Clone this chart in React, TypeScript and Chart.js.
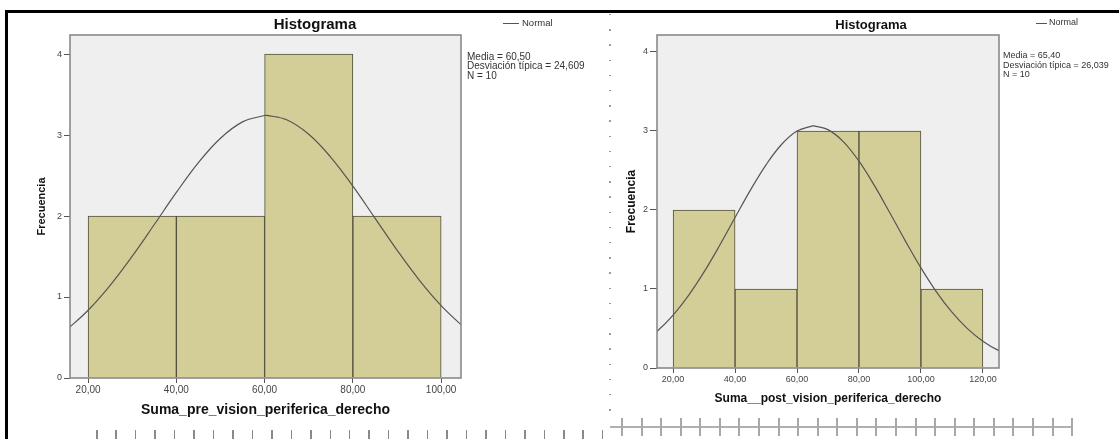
import React, { useEffect, useRef } from 'react';
import { Chart, registerables } from 'chart.js';

Chart.register(...registerables);

const FAMILY = '"Liberation Sans", Arial, Helvetica, sans-serif';
Chart.defaults.font.family = FAMILY;

// ---------- data: left histogram ----------
const preBinCenters = [30, 50, 70, 90];
const preCounts = [2, 2, 4, 2];
const preXTicks = [20, 40, 60, 80, 100];
const preXTickLabels = ['20,00', '40,00', '60,00', '80,00', '100,00'];
const preCurveX = [15, 20, 25, 30, 35, 40, 45, 50, 55, 60, 60.5, 65, 70, 75, 80, 85, 90, 95, 100, 105];
const preCurveY = [0.587, 0.837, 1.145, 1.504, 1.895, 2.291, 2.659, 2.96, 3.162, 3.241, 3.242, 3.188, 3.009, 2.725, 2.369, 1.975, 1.58, 1.213, 0.894, 0.632];
const preStats = ['Media = 60,50', 'Desviación típica = 24,609', 'N = 10'];
const preXTitle = 'Suma_pre_vision_periferica_derecho';

// ---------- data: right histogram ----------
const postBinCenters = [30, 50, 70, 90, 110];
const postCounts = [2, 1, 3, 3, 1];
const postXTicks = [20, 40, 60, 80, 100, 120];
const postXTickLabels = ['20,00', '40,00', '60,00', '80,00', '100,00', '120,00'];
const postCurveX = [10, 15, 20, 25, 30, 35, 40, 45, 50, 55, 60, 65, 65.4, 70, 75, 80, 85, 90, 95, 100, 105, 110, 115, 120, 125, 130];
const postCurveY = [0.319, 0.471, 0.67, 0.92, 1.216, 1.55, 1.904, 2.254, 2.572, 2.829, 2.999, 3.064, 3.064, 3.017, 2.863, 2.618, 2.308, 1.961, 1.606, 1.267, 0.964, 0.707, 0.499, 0.34, 0.223, 0.141];
const postStats = ['Media = 65,40', 'Desviación típica = 26,039', 'N = 10'];
const postXTitle = 'Suma__post_vision_periferica_derecho';

// ---------- shared ----------
const yTicks = [0, 1, 2, 3, 4];
const yTitle = 'Frecuencia';
const chartTitle = 'Histograma';
const legendLabel = 'Normal';

type Panel = {
  pageLeft: number;
  width: number;
  height: number;
  centers: number[];
  counts: number[];
  curveX: number[];
  curveY: number[];
  xTicks: number[];
  xTickLabels: string[];
  stats: string[];
  xTitle: string;
  xMin: number;
  xMax: number;
  yMax: number;
  padRight: number;
  yAxisWidth: number;
  xAxisHeight: number;
  xTickLen: number;
  xTickPad: number;
  xTickFont: number;
  xTitleFont: number;
  xTitlePadBottom: number;
  yTickLen: number;
  yTickPad: number;
  yTickFont: number;
  yTitleFont: number;
  yTitlePadTop: number;
  titleX: number;
  titleY: number;
  titleFont: number;
  legX1: number;
  legX2: number;
  legY: number;
  legTextX: number;
  legFont: number;
  statX: number;
  statY: number;
  statGap: number;
  statFont: number;
};

const leftPanel: Panel = {
  pageLeft: 0, width: 600, height: 439,
  centers: preBinCenters, counts: preCounts, curveX: preCurveX, curveY: preCurveY,
  xTicks: preXTicks, xTickLabels: preXTickLabels, stats: preStats, xTitle: preXTitle,
  xMin: 15.9, xMax: 104.5, yMax: 4.235,
  padRight: 139, yAxisWidth: 70, xAxisHeight: 61,
  xTickLen: 5, xTickPad: 1, xTickFont: 10, xTitleFont: 14, xTitlePadBottom: 20.6,
  yTickLen: 6, yTickPad: 2, yTickFont: 9, yTitleFont: 11, yTitlePadTop: 35.4,
  titleX: 315, titleY: 25, titleFont: 15,
  legX1: 503, legX2: 519, legY: 23, legTextX: 522, legFont: 9.5,
  statX: 467, statY: 57, statGap: 9.5, statFont: 10,
};

const rightPanel: Panel = {
  pageLeft: 610, width: 509, height: 439,
  centers: postBinCenters, counts: postCounts, curveX: postCurveX, curveY: postCurveY,
  xTicks: postXTicks, xTickLabels: postXTickLabels, stats: postStats, xTitle: postXTitle,
  xMin: 14.8, xMax: 125.2, yMax: 4.215,
  padRight: 120, yAxisWidth: 47, xAxisHeight: 71,
  xTickLen: 5, xTickPad: 1.6, xTickFont: 9, xTitleFont: 12, xTitlePadBottom: 32.8,
  yTickLen: 7, yTickPad: 2, yTickFont: 9, yTitleFont: 12, yTitlePadTop: 14.8,
  titleX: 261, titleY: 25, titleFont: 13,
  legX1: 426, legX2: 437, legY: 23, legTextX: 439, legFont: 9,
  statX: 393, statY: 56, statGap: 9.5, statFont: 9,
};

function HistChart({ p }: { p: Panel }) {
  const ref = useRef<HTMLCanvasElement | null>(null);
  useEffect(() => {
    if (!ref.current) return;
    const framePlugin = {
      id: 'spssFrame',
      beforeDatasetsDraw(chart: any) {
        const { ctx, chartArea: a } = chart;
        ctx.save();
        ctx.fillStyle = '#efefef';
        ctx.fillRect(a.left, a.top, a.right - a.left, a.bottom - a.top);
        ctx.restore();
      },
      afterDatasetsDraw(chart: any) {
        const { ctx, chartArea: a } = chart;
        ctx.save();
        ctx.strokeStyle = '#8a8a8a';
        ctx.lineWidth = 1.6;
        ctx.strokeRect(a.left, a.top, a.right - a.left, a.bottom - a.top);
        ctx.restore();
      },
      afterDraw(chart: any) {
        const ctx = chart.ctx;
        ctx.save();
        ctx.fillStyle = '#111';
        ctx.textAlign = 'center';
        ctx.textBaseline = 'middle';
        ctx.font = `bold ${p.titleFont}px ${FAMILY}`;
        ctx.fillText(chartTitle, p.titleX, p.titleY);
        ctx.strokeStyle = '#555';
        ctx.lineWidth = 1;
        ctx.beginPath();
        ctx.moveTo(p.legX1, p.legY + 0.5);
        ctx.lineTo(p.legX2, p.legY + 0.5);
        ctx.stroke();
        ctx.fillStyle = '#333';
        ctx.textAlign = 'left';
        ctx.font = `${p.legFont}px ${FAMILY}`;
        ctx.fillText(legendLabel, p.legTextX, p.legY);
        ctx.font = `${p.statFont}px ${FAMILY}`;
        p.stats.forEach((s, i) => ctx.fillText(s, p.statX, p.statY + i * p.statGap));
        ctx.restore();
      },
    };

    const chart = new Chart(ref.current, {
      type: 'bar',
      data: {
        datasets: [
          {
            type: 'line',
            label: legendLabel,
            data: p.curveX.map((x, i) => ({ x, y: p.curveY[i] })),
            borderColor: '#555555',
            borderWidth: 1.2,
            pointRadius: 0,
            tension: 0.4,
            fill: false,
            order: 0,
          } as any,
          {
            type: 'bar',
            label: 'Frecuencia',
            data: p.centers.map((x, i) => ({ x, y: p.counts[i] })),
            backgroundColor: '#d3ce98',
            borderColor: '#4f4f3a',
            borderWidth: 1,
            barPercentage: 1,
            categoryPercentage: 1,
            order: 1,
          } as any,
        ],
      },
      options: {
        responsive: false,
        animation: false,
        events: [],
        layout: { padding: { left: 0, top: 35, right: p.padRight, bottom: 0 } },
        plugins: {
          legend: { display: false },
          title: { display: false },
          tooltip: { enabled: false },
        },
        scales: {
          x: {
            type: 'linear',
            min: p.xMin,
            max: p.xMax,
            offset: false,
            afterBuildTicks: (s: any) => {
              s.ticks = p.xTicks.map((v) => ({ value: v }));
            },
            afterFit: (s: any) => {
              s.height = p.xAxisHeight;
            },
            grid: {
              display: true,
              drawOnChartArea: false,
              drawTicks: true,
              tickLength: p.xTickLen,
              color: '#555',
              lineWidth: 1,
              offset: false,
            },
            border: { display: false },
            ticks: {
              padding: p.xTickPad,
              font: { size: p.xTickFont },
              color: '#444',
              maxRotation: 0,
              autoSkip: false,
              callback: (_v: any, i: number) => p.xTickLabels[i],
            },
            title: {
              display: true,
              text: p.xTitle,
              color: '#111',
              font: { size: p.xTitleFont, weight: 'bold' },
              padding: { top: 0, bottom: p.xTitlePadBottom },
            },
          } as any,
          y: {
            type: 'linear',
            min: 0,
            max: p.yMax,
            afterBuildTicks: (s: any) => {
              s.ticks = yTicks.map((v) => ({ value: v }));
            },
            afterFit: (s: any) => {
              s.width = p.yAxisWidth;
            },
            grid: {
              display: true,
              drawOnChartArea: false,
              drawTicks: true,
              tickLength: p.yTickLen,
              color: '#555',
              lineWidth: 1,
            },
            border: { display: false },
            ticks: {
              padding: p.yTickPad,
              font: { size: p.yTickFont },
              color: '#444',
              callback: (v: any) => String(v),
            },
            title: {
              display: true,
              text: yTitle,
              color: '#111',
              font: { size: p.yTitleFont, weight: 'bold' },
              padding: { top: p.yTitlePadTop, bottom: 0 },
            },
          } as any,
        },
      },
      plugins: [framePlugin as any],
    });
    return () => chart.destroy();
  }, [p]);

  return (
    <canvas
      ref={ref}
      width={p.width}
      height={p.height}
      style={{ position: 'absolute', left: p.pageLeft, top: 0, width: p.width, height: p.height }}
    />
  );
}

export default function App() {
  return (
    <div
      style={{
        position: 'fixed',
        left: 0,
        top: 0,
        width: 1119,
        height: 439,
        background: '#ffffff',
        overflow: 'hidden',
      }}
    >
      <HistChart p={leftPanel} />
      <HistChart p={rightPanel} />
      {/* page frame */}
      <div style={{ position: 'absolute', left: 5, top: 10, width: 1114, height: 3, background: '#000' }} />
      <div style={{ position: 'absolute', left: 5, top: 10, width: 3, height: 429, background: '#000' }} />
      {/* dotted separator */}
      <div
        style={{
          position: 'absolute',
          left: 609,
          top: 14,
          width: 1.5,
          height: 400,
          background: 'repeating-linear-gradient(to bottom, #9a9a9a 0px, #9a9a9a 1.5px, transparent 1.5px, transparent 15.2px)',
        }}
      />
      {/* left ruler */}
      <div
        style={{
          position: 'absolute',
          left: 96,
          top: 430,
          width: 510,
          height: 9,
          background: 'repeating-linear-gradient(to right, #8a8a8a 0px, #8a8a8a 1.5px, transparent 1.5px, transparent 19.46px)',
        }}
      />
      {/* right ruler */}
      <div style={{ position: 'absolute', left: 610, top: 426, width: 463, height: 2, background: '#b0b0b0' }} />
      <div
        style={{
          position: 'absolute',
          left: 621,
          top: 418,
          width: 453,
          height: 18,
          background: 'repeating-linear-gradient(to right, #a8a8a8 0px, #a8a8a8 2px, transparent 2px, transparent 19.57px)',
        }}
      />
    </div>
  );
}
